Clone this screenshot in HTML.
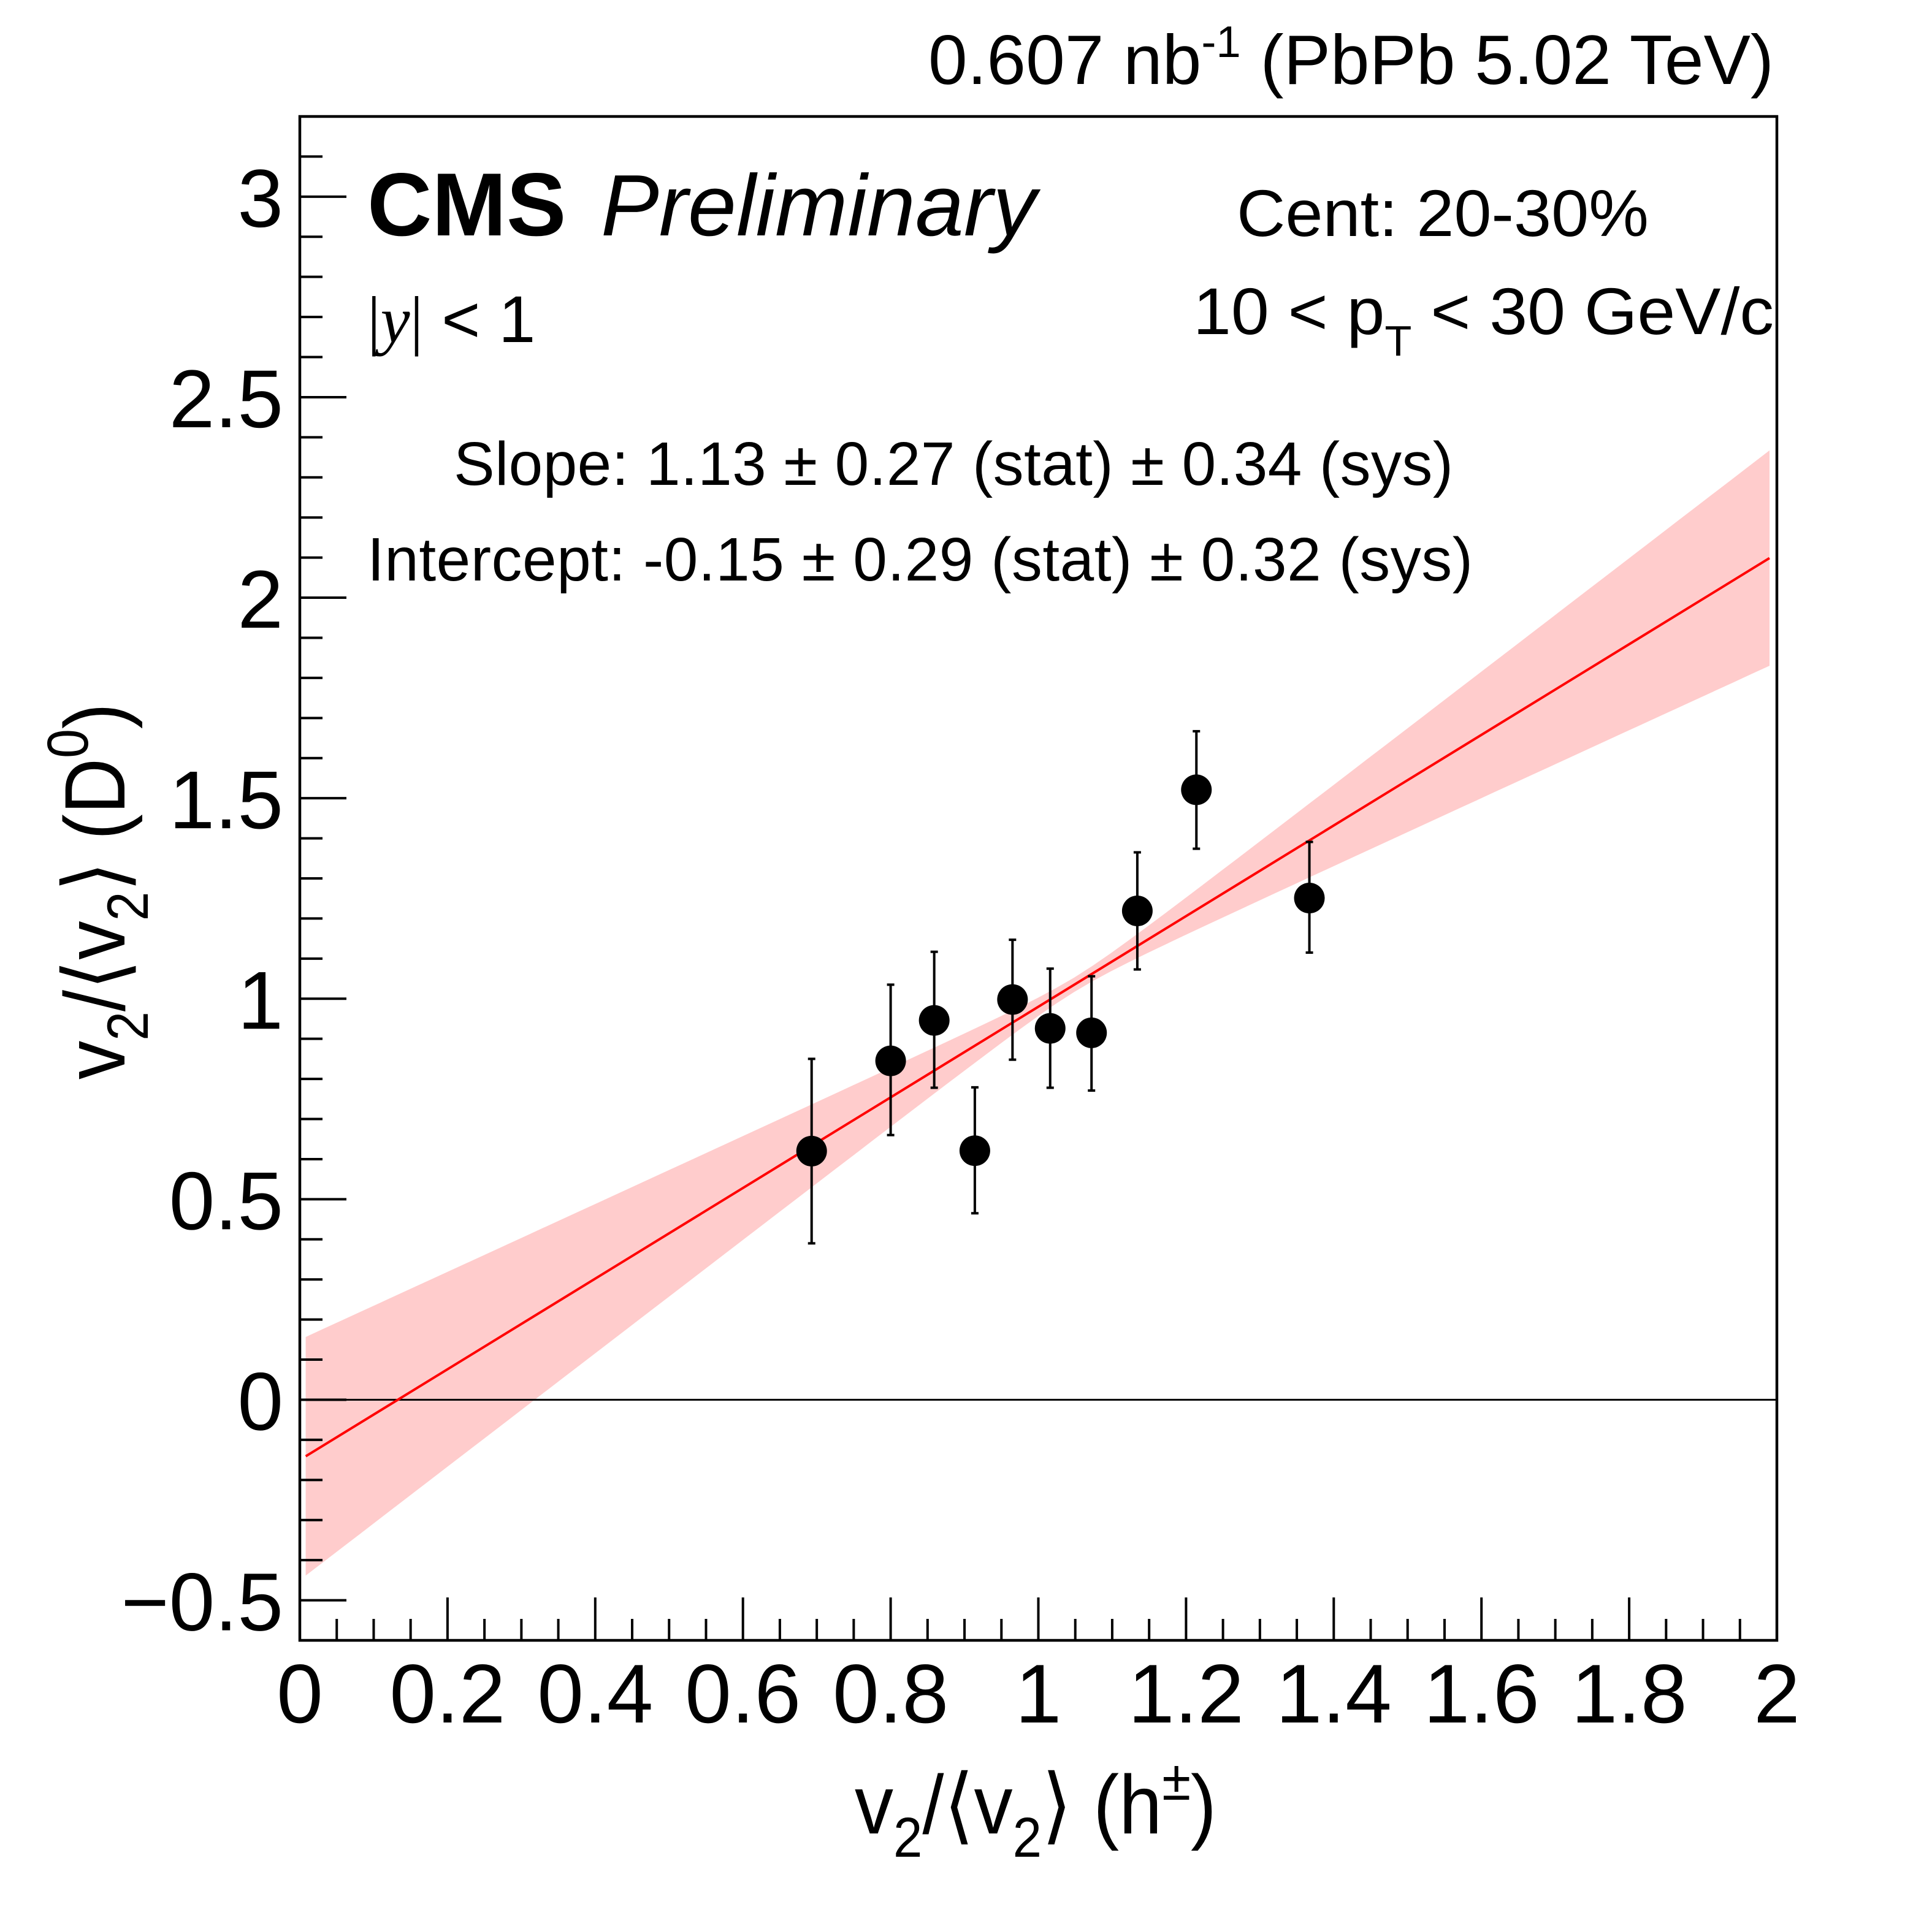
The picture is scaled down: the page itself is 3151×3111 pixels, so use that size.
<!DOCTYPE html>
<html><head><meta charset="utf-8"><style>
html,body{margin:0;padding:0;background:#fff;}
svg{display:block;font-family:"Liberation Sans",Arial,sans-serif;}
</style></head><body>
<svg id="chart" width="3151" height="3111" viewBox="0 0 3151 3111" xmlns="http://www.w3.org/2000/svg">
<rect x="0" y="0" width="3151" height="3111" fill="#fff"/>
<g id="band"></g>
<g id="axes"></g>
<g id="marks"></g>
<text x="1514" y="137" font-size="114" textLength="1379" lengthAdjust="spacingAndGlyphs">0.607 nb<tspan font-size="72" dy="-44">-1</tspan><tspan dy="44"> (PbPb 5.02 TeV)</tspan></text>
<text x="599" y="384" font-size="146" font-weight="bold">CMS</text>
<text x="980" y="384" font-size="142" font-style="italic">Preliminary</text>
<text x="2017" y="385" font-size="108" textLength="672" lengthAdjust="spacingAndGlyphs">Cent: 20-30%</text>
<text x="599" y="558" font-size="108"><tspan font-family="Liberation Serif,serif">|</tspan><tspan font-family="Liberation Serif,serif" font-style="italic">y</tspan><tspan font-family="Liberation Serif,serif">|</tspan> &lt; 1</text>
<text x="1946" y="545" font-size="108" textLength="947" lengthAdjust="spacingAndGlyphs">10 &lt; p<tspan font-size="70" dy="35">T</tspan><tspan dy="-35"> &lt; 30 GeV/c</tspan></text>
<text x="740" y="791" font-size="100" textLength="1630">Slope: 1.13 ± 0.27 (stat) ± 0.34 (sys)</text>
<text x="599" y="947" font-size="100" textLength="1803">Intercept: -0.15 ± 0.29 (stat) ± 0.32 (sys)</text>
<text x="1394" y="2991" font-size="136" textLength="590" lengthAdjust="spacingAndGlyphs">v<tspan font-size="92" dy="38">2</tspan><tspan dy="-38">/⟨v</tspan><tspan font-size="92" dy="38">2</tspan><tspan dy="-38">⟩ (h</tspan><tspan font-size="92" dy="-55">±</tspan><tspan dy="55">)</tspan></text>
<text transform="translate(203,1761) rotate(-90)" font-size="140" textLength="614" lengthAdjust="spacingAndGlyphs">v<tspan font-size="95" dy="38">2</tspan><tspan dy="-38">/⟨v</tspan><tspan font-size="95" dy="38">2</tspan><tspan dy="-38">⟩ (D</tspan><tspan font-size="95" dy="-60">0</tspan><tspan dy="60">)</tspan></text>
</svg>
<script>
const xVals = [0.693, 0.800, 0.859, 0.914, 0.965, 1.016, 1.072, 1.134, 1.214, 1.367];
const yVals = [0.620, 0.845, 0.946, 0.621, 0.998, 0.926, 0.915, 1.219, 1.521, 1.251];
const yErrUp = [0.230, 0.190, 0.171, 0.158, 0.149, 0.149, 0.141, 0.146, 0.146, 0.140];
const yErrDn = [0.230, 0.185, 0.168, 0.156, 0.150, 0.148, 0.144, 0.146, 0.147, 0.136];
const fitSlope = [1.13];
const fitIntercept = [-0.15];
const bandParams = [0.018, 0.285, 1.05];
const xTickLabels = ["0","0.2","0.4","0.6","0.8","1","1.2","1.4","1.6","1.8","2"];
const yTickLabels = ["−0.5","0","0.5","1","1.5","2","2.5","3"];

const X0=489, X1=2898, Y0=2676, Y1=190;
const xMin=0, xMax=2, yMin=-0.6, yMax=3.2;
function sx(v){return X0+(v-xMin)/(xMax-xMin)*(X1-X0);}
function sy(v){return Y0-(v-yMin)/(yMax-yMin)*(Y0-Y1);}
const NS="http://www.w3.org/2000/svg";
function mk(tag,attrs,parent){const e=document.createElementNS(NS,tag);for(const k in attrs)e.setAttribute(k,attrs[k]);parent.appendChild(e);return e;}
const band=document.getElementById('band'),axes=document.getElementById('axes'),marks=document.getElementById('marks');

const bx0=0.008,bx1=1.99,N=80;let up=[],dn=[];
for(let i=0;i<=N;i++){const x=bx0+(bx1-bx0)*i/N;const c=fitIntercept[0]+fitSlope[0]*x;
const hw=Math.sqrt(bandParams[0]**2+bandParams[1]**2*(x-bandParams[2])**2);
up.push(sx(x).toFixed(1)+','+sy(c+hw).toFixed(1));dn.unshift(sx(x).toFixed(1)+','+sy(c-hw).toFixed(1));}
const bp=mk('polygon',{points:up.concat(dn).join(' '),fill:'#ffcccc',stroke:'none'},band);



const zl=mk('line',{x1:X0,x2:X1,y1:sy(0),y2:sy(0),stroke:'#000','stroke-width':3},axes);



const fl=mk('line',{x1:sx(bx0),y1:sy(fitIntercept[0]+fitSlope[0]*bx0),x2:sx(bx1),y2:sy(fitIntercept[0]+fitSlope[0]*bx1),stroke:'#ff0000','stroke-width':4},axes);



const fr=mk('rect',{x:X0,y:Y1,width:X1-X0,height:Y0-Y1,fill:'none',stroke:'#000','stroke-width':4.5},axes);



for(let i=0;i<=40;i++){const v=i*0.05;const major=i%4===0;
const t=mk('line',{x1:sx(v),x2:sx(v),y1:Y0,y2:Y0-(major?70:35),stroke:'#000','stroke-width':4},axes);

}
xTickLabels.forEach((s,i)=>{const t=mk('text',{x:sx(i*0.2),y:2810,'font-size':136,'text-anchor':'middle'},axes);t.textContent=s;

});

for(let i=-6;i<=32;i++){const v=i*0.1;const major=i%5===0;
const t=mk('line',{x1:X0,x2:X0+(major?76:37),y1:sy(v),y2:sy(v),stroke:'#000','stroke-width':4},axes);

}
yTickLabels.forEach((s,i)=>{const t=mk('text',{x:462,y:sy(-0.5+i*0.5)+49,'font-size':134,'text-anchor':'end'},axes);t.textContent=s;

});

xVals.forEach((xv,i)=>{const g=mk('g',{},marks);


const cx=sx(xv),ytop=sy(yVals[i]+yErrUp[i]),ybot=sy(yVals[i]-yErrDn[i]);
mk('line',{x1:cx,x2:cx,y1:ytop,y2:ybot,stroke:'#000','stroke-width':4},g);
mk('line',{x1:cx-6,x2:cx+6,y1:ytop,y2:ytop,stroke:'#000','stroke-width':4},g);
mk('line',{x1:cx-6,x2:cx+6,y1:ybot,y2:ybot,stroke:'#000','stroke-width':4},g);
mk('circle',{cx:cx,cy:sy(yVals[i]),r:25,fill:'#000'},g);});
</script>
</body></html>
